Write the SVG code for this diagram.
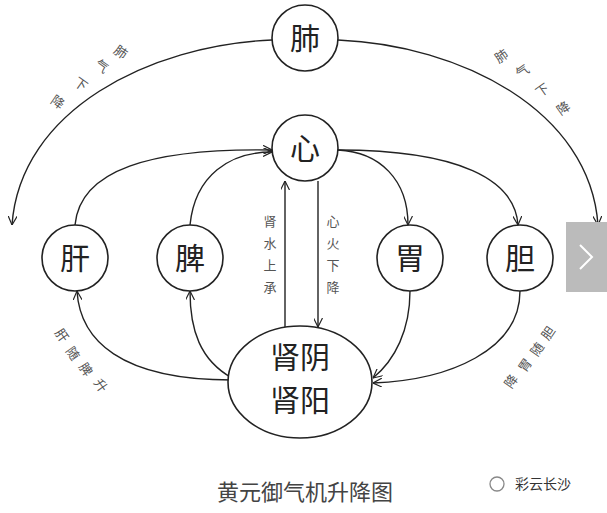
<svg xmlns="http://www.w3.org/2000/svg" width="607" height="513" viewBox="0 0 607 513">
<defs>
<marker id="a" viewBox="0 0 10 10" refX="10" refY="5" markerWidth="9" markerHeight="9" orient="auto-start-reverse" markerUnits="userSpaceOnUse"><path d="M0,0 L10,5 L0,10" fill="none" stroke="#222" stroke-width="1.3"/></marker>
<style>
.n{fill:#fff;stroke:#222;stroke-width:1.6}
.t{font-family:"Noto Sans CJK SC",sans-serif;font-size:30px;fill:#222;text-anchor:middle}
.c path,.c line{fill:none;stroke:#222;stroke-width:1.4;marker-end:url(#a)}
.s{font-family:"Noto Sans CJK SC",sans-serif;font-size:13px;fill:#555;text-anchor:middle}
</style>
</defs>
<rect width="607" height="513" fill="#fff"/>
<g class="c">
<path d="M272,40 C150,45 20,110 12,225"/>
<path d="M338,40 C460,45 590,110 598,225"/>
<path d="M75,225 C80,170 150,148 272,150"/>
<path d="M190,225 C195,175 230,152 272,152"/>
<path d="M338,150 C380,152 408,180 408,225"/>
<path d="M338,150 C460,150 515,180 518,225"/>
<path d="M232,380 C120,380 80,340 77,291"/>
<path d="M232,378 C200,360 190,330 190,291"/>
<path d="M410,291 C410,330 395,360 373,378"/>
<path d="M520,291 C520,350 450,380 373,383"/>
<line x1="285" y1="327" x2="285" y2="181"/>
<line x1="318" y1="181" x2="318" y2="327"/>
</g>
<g id="fei"><circle class="n" cx="305" cy="38" r="33"/><text class="t" x="305" y="49">肺</text></g>
<g id="xin"><circle class="n" cx="305" cy="148" r="33"/><text class="t" x="305" y="159">心</text></g>
<g id="gan"><circle class="n" cx="75" cy="258" r="33"/><text class="t" x="75" y="269">肝</text></g>
<g id="pi"><circle class="n" cx="190" cy="258" r="33"/><text class="t" x="190" y="269">脾</text></g>
<g id="wei"><circle class="n" cx="410" cy="258" r="33"/><text class="t" x="410" y="269">胃</text></g>
<g id="dan"><circle class="n" cx="520" cy="258" r="33"/><text class="t" x="520" y="269">胆</text></g>
<g id="shen"><ellipse class="n" cx="300" cy="382" rx="72" ry="56"/><text class="t" x="300" y="368" style="font-size:30px">肾阴</text><text class="t" x="300" y="411" style="font-size:30px">肾阳</text></g>
<g id="labels">
<text class="s" transform="translate(118,56) rotate(35)">肺</text>
<text class="s" transform="translate(99,70) rotate(35)">气</text>
<text class="s" transform="translate(78,88) rotate(35)">下</text>
<text class="s" transform="translate(55,106) rotate(35)">降</text>
<text class="s" transform="translate(504,60) rotate(-35)">肺</text>
<text class="s" transform="translate(525,75) rotate(-35)">气</text>
<text class="s" transform="translate(545,94) rotate(-35)">下</text>
<text class="s" transform="translate(566,112) rotate(-35)">降</text>
<text class="s" transform="translate(58,338) rotate(55)">肝</text>
<text class="s" transform="translate(69,356) rotate(55)">随</text>
<text class="s" transform="translate(82,372) rotate(55)">脾</text>
<text class="s" transform="translate(97,388) rotate(55)">升</text>
<text class="s" transform="translate(552,336) rotate(-55)">胆</text>
<text class="s" transform="translate(541,352) rotate(-55)">随</text>
<text class="s" transform="translate(529,368) rotate(-55)">胃</text>
<text class="s" transform="translate(515,384) rotate(-55)">降</text>
<text class="s" x="270" y="226">肾</text><text class="s" x="270" y="248">水</text><text class="s" x="270" y="270">上</text><text class="s" x="270" y="292">承</text>
<text class="s" x="333" y="226">心</text><text class="s" x="333" y="248">火</text><text class="s" x="333" y="270">下</text><text class="s" x="333" y="292">降</text>
</g>
<text x="305" y="500" style="font-family:'Noto Sans CJK SC',sans-serif;font-size:22px;fill:#444;text-anchor:middle">黄元御气机升降图</text>
<circle cx="497" cy="484" r="7" fill="none" stroke="#888" stroke-width="1.3"/>
<text x="543" y="489" style="font-family:'Noto Sans CJK SC',sans-serif;font-size:14px;fill:#333;text-anchor:middle">彩云长沙</text>
<rect x="566" y="222" width="41" height="70" fill="#bbb"/>
<path d="M580,245 L592,257 L580,269" fill="none" stroke="#fff" stroke-width="2"/>
</svg>
